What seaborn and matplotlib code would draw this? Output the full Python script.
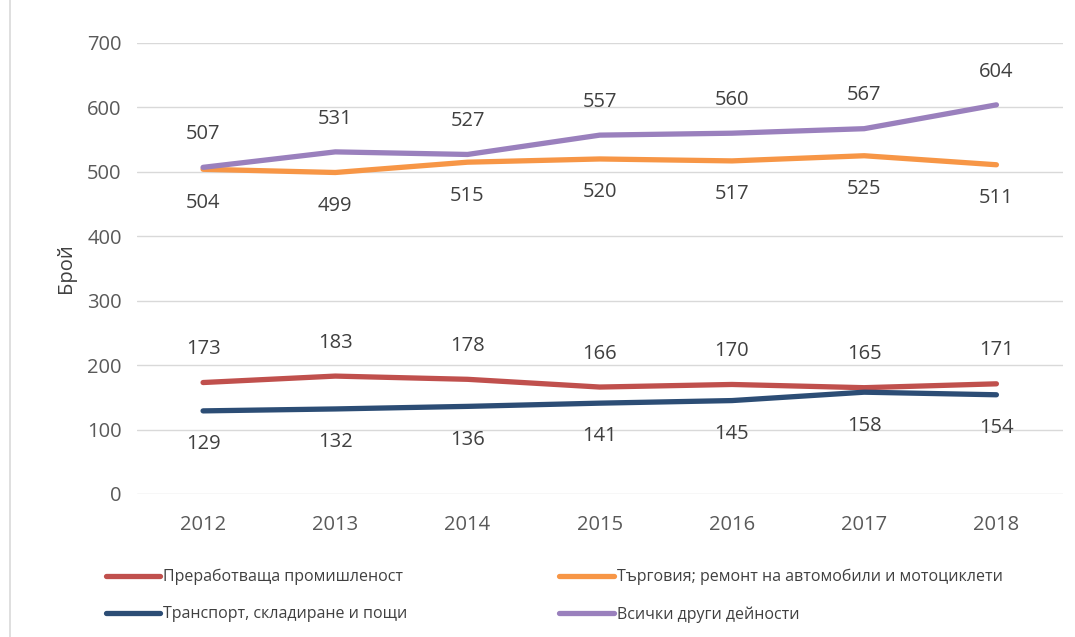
import pandas as pd
import seaborn as sns
import matplotlib.pyplot as plt
from matplotlib.patches import Rectangle

years = ['2012', '2013', '2014', '2015', '2016', '2017', '2018']
manufacturing = [173, 183, 178, 166, 170, 165, 171]
trade = [504, 499, 515, 520, 517, 525, 511]
transport = [129, 132, 136, 141, 145, 158, 154]
other = [507, 531, 527, 557, 560, 567, 604]

names = ['Преработваща промишленост', 'Търговия; ремонт на автомобили и мотоциклети',
         'Транспорт, складиране и пощи', 'Всички други дейности']
colors = ['#C0504D', '#F79646', '#2C4D75', '#9A80BD']
label_side = [1, -1, -1, 1]  # above / below the point

sns.set_style('white')
plt.rcParams['font.family'] = ['Open Sans', 'DejaVu Sans']

series = [manufacturing, trade, transport, other]
rows = []
for name, vals in zip(names, series):
    for i, (y, v) in enumerate(zip(years, vals)):
        rows.append({'x': i, 'year': y, 'value': v, 'series': name})
df = pd.DataFrame(rows)

fig = plt.figure(figsize=(10.75, 6.37), dpi=100)
ax = fig.add_axes([0.1274, 0.2245, 0.861, 0.708])

sns.lineplot(data=df, x='x', y='value', hue='series', hue_order=names,
             palette=colors, linewidth=3.8, ax=ax, legend=False,
             solid_capstyle='round')

for name, vals, side in zip(names, series, label_side):
    for i, v in enumerate(vals):
        ax.annotate(str(v), (i, v), xytext=(0, 24 * side), textcoords='offset points',
                    ha='center', va='center', fontsize=14.5, color='#404040')

ax.set_xlim(-0.5, 6.5)
ax.set_ylim(0, 700)
ax.set_yticks(range(0, 701, 100))
ax.set_xticks(range(len(years)))
ax.set_xticklabels(years)
ax.grid(axis='y', color='#D9D9D9', linewidth=1)
ax.tick_params(axis='both', labelsize=14.5, labelcolor='#595959', length=0)
ax.tick_params(axis='x', pad=15)
ax.tick_params(axis='y', pad=11)
for s in ax.spines.values():
    s.set_visible(False)
ax.set_xlabel('')
ax.set_ylabel('Брой', fontsize=14.5, color='#404040', labelpad=8)

handles = [plt.Line2D([], [], color=c, linewidth=3.8, solid_capstyle='round') for c in colors]
order = [0, 2, 1, 3]
fig.legend([handles[k] for k in order], [names[k] for k in order], ncol=2,
           loc='lower left', bbox_to_anchor=(0.085, 0.0), frameon=False,
           fontsize=11.5, handlelength=3.4, handletextpad=0.2, columnspacing=9.5,
           labelspacing=1.3, labelcolor='#404040')

fig.patches.append(Rectangle((0.009, -0.01), 1.2, 1.2, transform=fig.transFigure,
                             fill=False, edgecolor='#D9D9D9', linewidth=1.2))

fig.savefig('out.png', dpi=100)
